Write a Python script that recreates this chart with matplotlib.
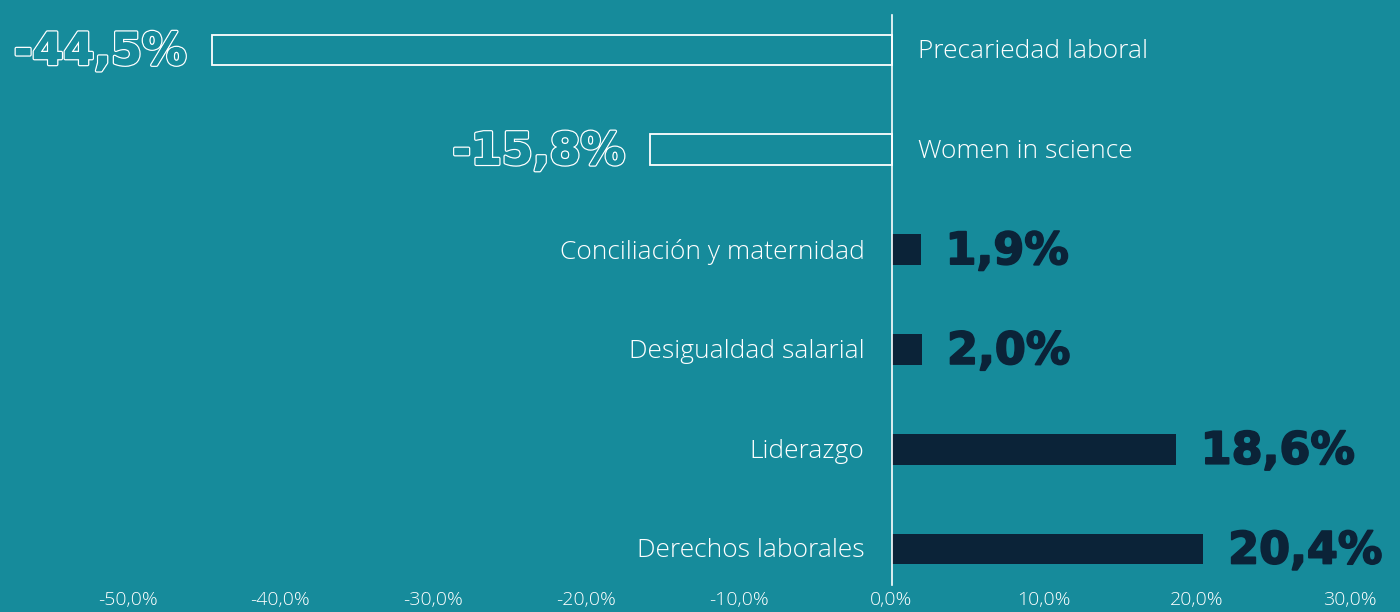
import matplotlib
matplotlib.use("Agg")
import matplotlib.pyplot as plt
import matplotlib.patheffects as pe

categories = ["Precariedad laboral", "Women in science", "Conciliación y maternidad",
              "Desigualdad salarial", "Liderazgo", "Derechos laborales"]
values = [-44.5, -15.8, 1.9, 2.0, 18.6, 20.4]
value_labels = ["-44,5%", "-15,8%", "1,9%", "2,0%", "18,6%", "20,4%"]
tick_values = [-50, -40, -30, -20, -10, 0, 10, 20, 30]
tick_labels = ["-50,0%", "-40,0%", "-30,0%", "-20,0%", "-10,0%", "0,0%", "10,0%", "20,0%", "30,0%"]

BG = "#168B9B"
NAVY = "#0B2338"
WHITE = "#FFFFFF"

W, H, DPI = 14.0, 6.12, 100
fig = plt.figure(figsize=(W, H), dpi=DPI, facecolor=BG)
ax = fig.add_axes([0, 0, 1, 1])
ax.set_facecolor(BG)
for s in ax.spines.values():
    s.set_visible(False)
ax.set_xticks([])
ax.set_yticks([])

pxper = 15.28
zero_px = 891.5
ax.set_xlim(-zero_px / pxper, (1400 - zero_px) / pxper)
row_px = 99.8
top_px = 50
ax.set_ylim((612 - top_px) / row_px, -top_px / row_px)

ypos = list(range(len(categories)))
bar_h = 0.31

for y, v in zip(ypos, values):
    if v < 0:
        ax.barh(y, v, height=bar_h, left=0, facecolor="none", edgecolor=WHITE, linewidth=1.3)
    else:
        ax.barh(y, v, height=bar_h, left=0, color=NAVY, linewidth=0)

ax.plot([0, 0], [-0.35, 5.36], color=WHITE, linewidth=1.2)

light = dict(family="Open Sans", fontweight="light", fontstyle="normal")
heavy = dict(family="DejaVu Sans", fontweight="bold", fontstyle="normal")
gap = 25 / pxper
lab_gap = 27 / pxper

for y, v, c, vl in zip(ypos, values, categories, value_labels):
    if v < 0:
        ax.text(lab_gap, y + 0.02, c, ha="left", va="center", color=WHITE, fontsize=19, **light)
        ax.text(v - gap, y + 0.02, vl, ha="right", va="center", color=BG, fontsize=32,
                path_effects=[pe.Stroke(linewidth=2.6, foreground=WHITE),
                              pe.Stroke(linewidth=0.8, foreground=BG), pe.Normal()], **heavy)
    else:
        ax.text(-lab_gap, y + 0.02, c, ha="right", va="center", color=WHITE, fontsize=19, **light)
        ax.text(v + gap, y + 0.02, vl, ha="left", va="center", color=NAVY, fontsize=32,
                path_effects=[pe.Stroke(linewidth=1.3, foreground=NAVY), pe.Normal()], **heavy)

tick_y = (600 - top_px) / row_px
for tv, tl in zip(tick_values, tick_labels):
    ax.text(tv, tick_y, tl, ha="center", va="center", color=WHITE, fontsize=14, **light)

fig.savefig("out.png", dpi=DPI, facecolor=BG)
